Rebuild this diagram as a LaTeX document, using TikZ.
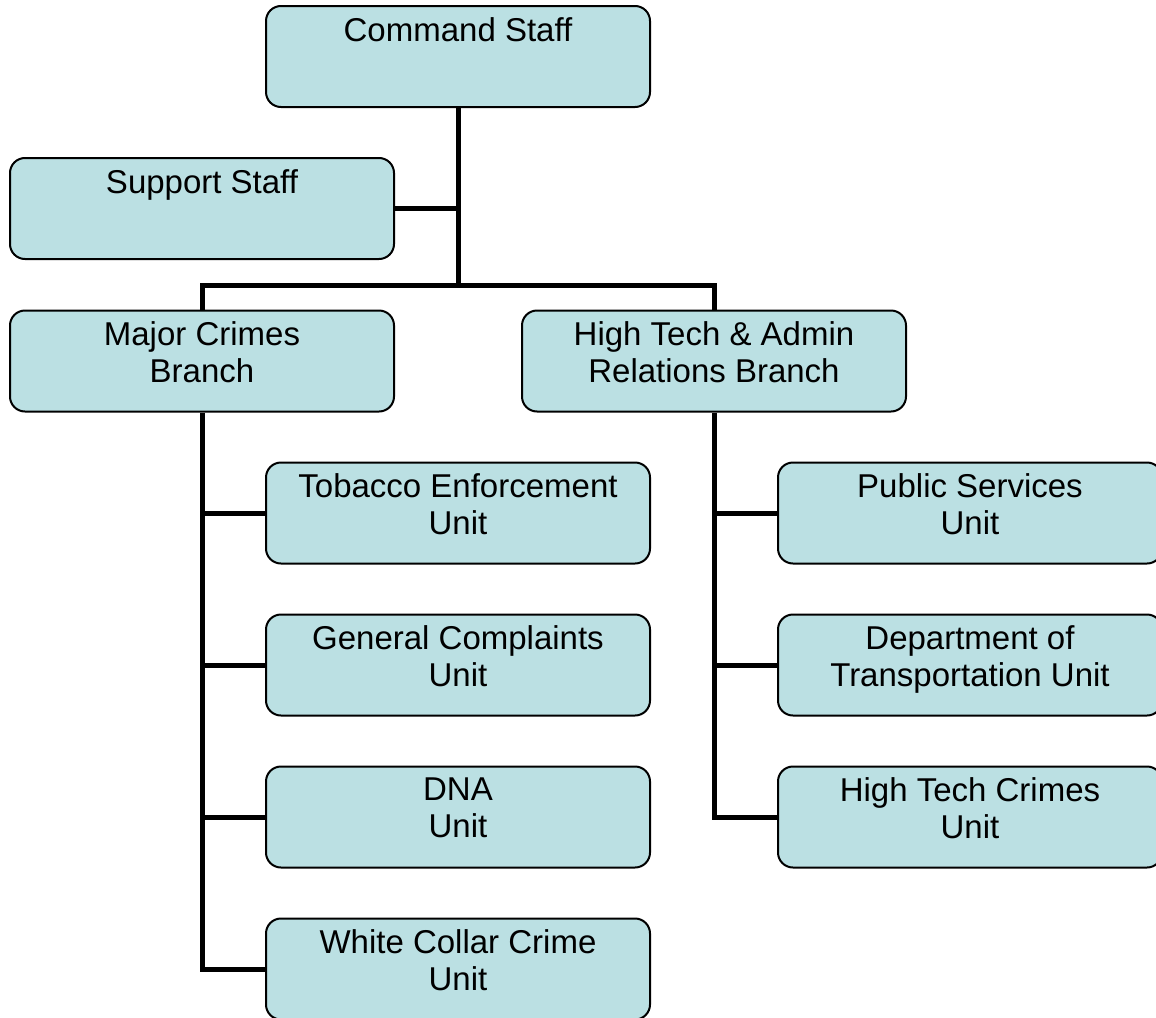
\documentclass[tikz,border=0pt]{standalone}
\usepackage{fontspec}
\setmainfont{Liberation Sans}
\usepackage{tikz}
\usetikzlibrary{positioning}
\definecolor{kasten}{HTML}{BBE0E3}

\begin{document}
\begin{tikzpicture}[x=0.5pt, y=-0.5pt,
    box/.style={draw, line width=1pt, fill=kasten, rounded corners=7.5pt,
        minimum width=192pt, minimum height=50.5pt},
    txt/.style={inner sep=0pt, align=center, font=\fontsize{16.5}{18.5}\selectfont},
    conn/.style={line width=2.5pt}]
    \useasboundingbox (0,0) rectangle (1156,1017);

    % Leitung
    \node[box] (cmd) at (458,56.5) {};
    \node[txt, below=6pt of cmd.north] (cmdt) {Command Staff};
    \node[box] (sup) at (202,208.5) {};
    \node[txt, below=6pt of sup.north] (supt) {Support Staff};

    % Branches
    \node[box] (maj) at (202,361) {};
    \node[txt, below=6pt of maj.north] (majt) {Major Crimes\\Branch};
    \node[box] (ht) at (714,361) {};
    \node[txt, below=6pt of ht.north] (htt) {High Tech \& Admin\\Relations Branch};

    % Units links
    \node[box] (tob) at (458,513) {};
    \node[txt, below=6pt of tob.north] (tobt) {Tobacco Enforcement\\Unit};
    \node[box] (gen) at (458,665) {};
    \node[txt, below=6pt of gen.north] (gent) {General Complaints\\Unit};
    \node[box] (dna) at (458,817) {};
    \node[txt, below=6pt of dna.north] (dnat) {DNA\\Unit};
    \node[box] (wcc) at (458,969) {};
    \node[txt, below=6pt of wcc.north] (wcct) {White Collar Crime\\Unit};

    % Units rechts
    \node[box] (pub) at (970,513) {};
    \node[txt, below=6pt of pub.north] (pubt) {Public Services\\Unit};
    \node[box] (dot) at (970,665) {};
    \node[txt, below=6pt of dot.north] (dott) {Department of\\Transportation Unit};
    \node[box] (htc) at (970,817) {};
    \node[txt, below=6pt of htc.north] (htct) {High Tech Crimes\\Unit};

    % Verbindungen
    \coordinate (bus) at (458,285);
    \draw[conn] (cmd.south) -- (bus);
    \draw[conn] (sup.east) -- (sup.east -| cmd.south);
    \draw[conn] (maj.north) |- (bus) -| (ht.north);
    \draw[conn] (maj.south) |- (wcc.west);
    \draw[conn] (maj.south |- tob.west) -- (tob.west);
    \draw[conn] (maj.south |- gen.west) -- (gen.west);
    \draw[conn] (maj.south |- dna.west) -- (dna.west);
    \draw[conn] (ht.south) |- (htc.west);
    \draw[conn] (ht.south |- pub.west) -- (pub.west);
    \draw[conn] (ht.south |- dot.west) -- (dot.west);
\end{tikzpicture}
\end{document}
